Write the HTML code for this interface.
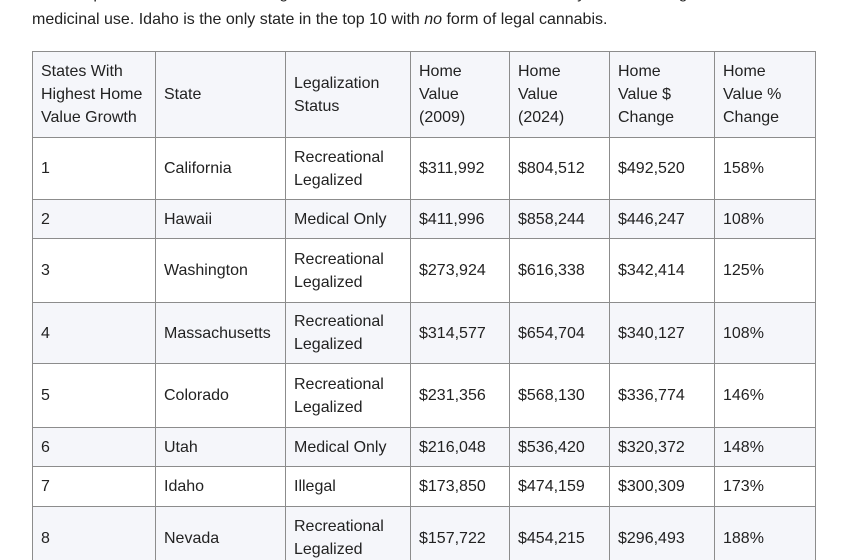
<!DOCTYPE html>
<html>
<head>
<meta charset="utf-8">
<style>
  html, body { margin:0; padding:0; width:850px; height:560px; overflow:hidden; background:#ffffff; }
  #wrap { position:relative; width:850px; height:560px; overflow:hidden; background:#ffffff;
         font-family:"Liberation Sans", sans-serif; color:#222; }
  .line { position:absolute; left:32px; white-space:nowrap; font-size:16px; line-height:28px; color:#222; }
  table { position:absolute; left:32px; top:51px; border-collapse:collapse; table-layout:fixed; width:783px; }
  td { border:1px solid #8c8c8c; padding:0 8px; font-size:16px; line-height:23px; vertical-align:middle; color:#222; overflow:hidden; white-space:nowrap; }
  tr.s td { background:#f5f6fa; }
</style>
</head>
<body>
<div id="wrap">
<div class="line" style="top:-20px;">Of the top 10 states, seven have legalized recreational cannabis, and two only allow it for legal</div>
<div class="line" style="top:6px;">medicinal use. Idaho is the only state in the top 10 with <i>no</i> form of legal cannabis.</div>

<table>
  <colgroup>
    <col style="width:123px"><col style="width:130px"><col style="width:125px"><col style="width:99px"><col style="width:100px"><col style="width:105px"><col style="width:101px">
  </colgroup>
  <tr class="s" style="height:86px">
    <td>States With<br>Highest Home<br>Value Growth</td>
    <td>State</td>
    <td>Legalization<br>Status</td>
    <td>Home<br>Value<br>(2009)</td>
    <td>Home<br>Value<br>(2024)</td>
    <td>Home<br>Value $<br>Change</td>
    <td>Home<br>Value %<br>Change</td>
  </tr>
  <tr style="height:62px">
    <td>1</td><td>California</td><td>Recreational<br>Legalized</td><td>$311,992</td><td>$804,512</td><td>$492,520</td><td>158%</td>
  </tr>
  <tr class="s" style="height:39px">
    <td>2</td><td>Hawaii</td><td>Medical Only</td><td>$411,996</td><td>$858,244</td><td>$446,247</td><td>108%</td>
  </tr>
  <tr style="height:64px">
    <td>3</td><td>Washington</td><td>Recreational<br>Legalized</td><td>$273,924</td><td>$616,338</td><td>$342,414</td><td>125%</td>
  </tr>
  <tr class="s" style="height:61px">
    <td>4</td><td>Massachusetts</td><td>Recreational<br>Legalized</td><td>$314,577</td><td>$654,704</td><td>$340,127</td><td>108%</td>
  </tr>
  <tr style="height:64px">
    <td>5</td><td>Colorado</td><td>Recreational<br>Legalized</td><td>$231,356</td><td>$568,130</td><td>$336,774</td><td>146%</td>
  </tr>
  <tr class="s" style="height:39px">
    <td>6</td><td>Utah</td><td>Medical Only</td><td>$216,048</td><td>$536,420</td><td>$320,372</td><td>148%</td>
  </tr>
  <tr style="height:40px">
    <td>7</td><td>Idaho</td><td>Illegal</td><td>$173,850</td><td>$474,159</td><td>$300,309</td><td>173%</td>
  </tr>
  <tr class="s" style="height:63px">
    <td>8</td><td>Nevada</td><td>Recreational<br>Legalized</td><td>$157,722</td><td>$454,215</td><td>$296,493</td><td>188%</td>
  </tr>
</table>
</div>
</body>
</html>
